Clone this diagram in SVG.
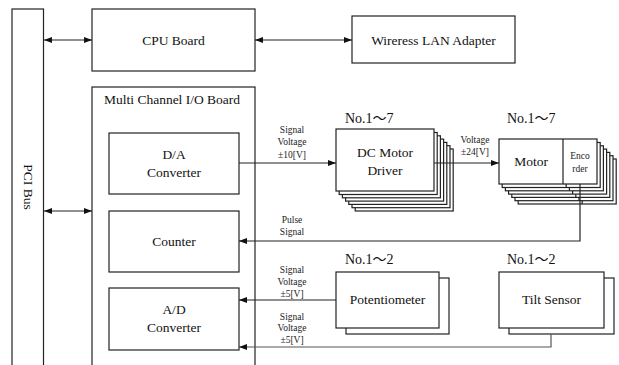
<svg xmlns="http://www.w3.org/2000/svg" width="619" height="365" viewBox="0 0 619 365">
  <style>
    .box { fill: #fff; stroke: #222; stroke-width: 1.2; }
    .bg { fill: none; stroke: #222; stroke-width: 1.2; }
    text { font-family: "Liberation Serif", "Times New Roman", "DejaVu Serif", serif; fill: #111; }
    .t { font-size: 13.5px; text-anchor: middle; }
    .tl { font-size: 13.5px; }
    .no { font-family: "Liberation Serif", "Noto Sans CJK JP", serif; font-size: 14px; }
    .s { font-size: 9.5px; fill: #222; text-anchor: middle; }
    .w { fill: none; stroke: #222; stroke-width: 1.2; }
  </style>
  <defs>
    <marker id="ah" markerUnits="userSpaceOnUse" markerWidth="8" markerHeight="6" refX="8" refY="3" orient="auto-start-reverse">
      <path d="M0,0 L8,3 L0,6 z" fill="#111"/>
    </marker>
    <rect id="dcPage" width="98" height="62" class="box"/>
    <g id="motorPage">
      <rect width="98" height="45" class="box"/>
      <line x1="64" y1="0" x2="64" y2="45" class="w"/>
    </g>
  </defs>

  <!-- PCI bus -->
  <g id="pci-bus">
    <rect x="12" y="9" width="31.5" height="370" class="bg"/>
    <text class="t" transform="translate(23.5,187) rotate(90)">PCI Bus</text>
  </g>

  <!-- CPU board -->
  <g id="cpu-board">
    <rect x="92" y="9" width="163" height="62" class="box"/>
    <text class="t" x="173.5" y="45">CPU Board</text>
  </g>

  <!-- Wireless LAN adapter -->
  <g id="wlan">
    <rect x="352" y="16" width="163" height="47" class="box"/>
    <text class="t" x="433.5" y="44.5">Wireress LAN Adapter</text>
  </g>

  <!-- I/O board container -->
  <g id="io-board">
    <rect x="92" y="87" width="163" height="300" class="bg"/>
    <text class="tl" x="104" y="104">Multi Channel I/O Board</text>
  </g>

  <g id="da-converter">
    <rect x="109" y="133" width="130" height="61" class="box"/>
    <text class="t" x="174" y="159">D/A</text>
    <text class="t" x="174" y="177">Converter</text>
  </g>

  <g id="counter">
    <rect x="109" y="211" width="130" height="61" class="box"/>
    <text class="t" x="174" y="246">Counter</text>
  </g>

  <g id="ad-converter">
    <rect x="109" y="288" width="130" height="62" class="box"/>
    <text class="t" x="174" y="314">A/D</text>
    <text class="t" x="174" y="332">Converter</text>
  </g>

  <!-- DC motor driver stack (7 units) -->
  <g id="dc-motor-driver">
    <text class="no" x="345" y="123">No.1～7</text>
    <use href="#dcPage" x="355.2" y="149"/>
    <use href="#dcPage" x="352" y="145.7"/>
    <use href="#dcPage" x="348.8" y="142.4"/>
    <use href="#dcPage" x="345.6" y="139.1"/>
    <use href="#dcPage" x="342.4" y="135.8"/>
    <use href="#dcPage" x="339.2" y="132.5"/>
    <rect x="336" y="129" width="98" height="62" class="box"/>
    <text class="t" x="385" y="157">DC Motor</text>
    <text class="t" x="385" y="175">Driver</text>
  </g>

  <!-- Motor + encoder stack (7 units) -->
  <g id="motor">
    <text class="no" x="507" y="123">No.1～7</text>
    <use href="#motorPage" x="518.2" y="159"/>
    <use href="#motorPage" x="515" y="155.7"/>
    <use href="#motorPage" x="511.8" y="152.4"/>
    <use href="#motorPage" x="508.6" y="149.1"/>
    <use href="#motorPage" x="505.4" y="145.8"/>
    <use href="#motorPage" x="502.2" y="142.5"/>
    <rect x="499" y="139" width="98" height="45" class="box"/>
    <line x1="563" y1="139" x2="563" y2="184" class="w"/>
    <text class="t" x="531" y="166">Motor</text>
    <text class="s" x="580" y="159">Enco</text>
    <text class="s" x="580" y="172">rder</text>
  </g>

  <!-- Potentiometer (2 units) -->
  <g id="potentiometer">
    <text class="no" x="345" y="264">No.1～2</text>
    <rect x="346" y="278" width="103" height="56" class="box"/>
    <rect x="336" y="272" width="103" height="56" class="box"/>
    <text class="t" x="387.5" y="304">Potentiometer</text>
  </g>

  <!-- Tilt sensor (2 units) -->
  <g id="tilt-sensor">
    <text class="no" x="507" y="264">No.1～2</text>
    <rect x="509" y="278" width="105" height="56" class="box"/>
    <rect x="499" y="272" width="105" height="56" class="box"/>
    <text class="t" x="551.5" y="304">Tilt Sensor</text>
  </g>

  <!-- Connectors -->
  <g id="connectors">
    <line x1="44" y1="40" x2="92" y2="40" class="w" marker-start="url(#ah)" marker-end="url(#ah)"/>
    <line x1="255" y1="40" x2="352" y2="40" class="w" marker-start="url(#ah)" marker-end="url(#ah)"/>
    <line x1="44" y1="211" x2="92" y2="211" class="w" marker-start="url(#ah)" marker-end="url(#ah)"/>
    <line x1="239" y1="163" x2="336" y2="163" class="w" marker-end="url(#ah)"/>
    <line x1="434" y1="163" x2="499" y2="163" class="w" marker-end="url(#ah)"/>
    <polyline points="580,184 580,241 239,241" class="w" marker-end="url(#ah)"/>
    <polyline points="336,300 239,300" class="w" marker-end="url(#ah)"/>
    <polyline points="551,334 551,347 239,347" class="w" style="stroke:#555" marker-end="url(#ah)"/>

    <text class="s" x="292" y="133">Signal</text>
    <text class="s" x="292" y="145">Voltage</text>
    <text class="s" x="292" y="158">±10[V]</text>

    <text class="s" x="475" y="143">Voltage</text>
    <text class="s" x="475" y="155">±24[V]</text>

    <text class="s" x="292" y="223">Pulse</text>
    <text class="s" x="292" y="235">Signal</text>

    <text class="s" x="292" y="273">Signal</text>
    <text class="s" x="292" y="285">Voltage</text>
    <text class="s" x="292" y="297">±5[V]</text>

    <text class="s" x="292" y="320">Signal</text>
    <text class="s" x="292" y="331">Voltage</text>
    <text class="s" x="292" y="343">±5[V]</text>
  </g>
</svg>
